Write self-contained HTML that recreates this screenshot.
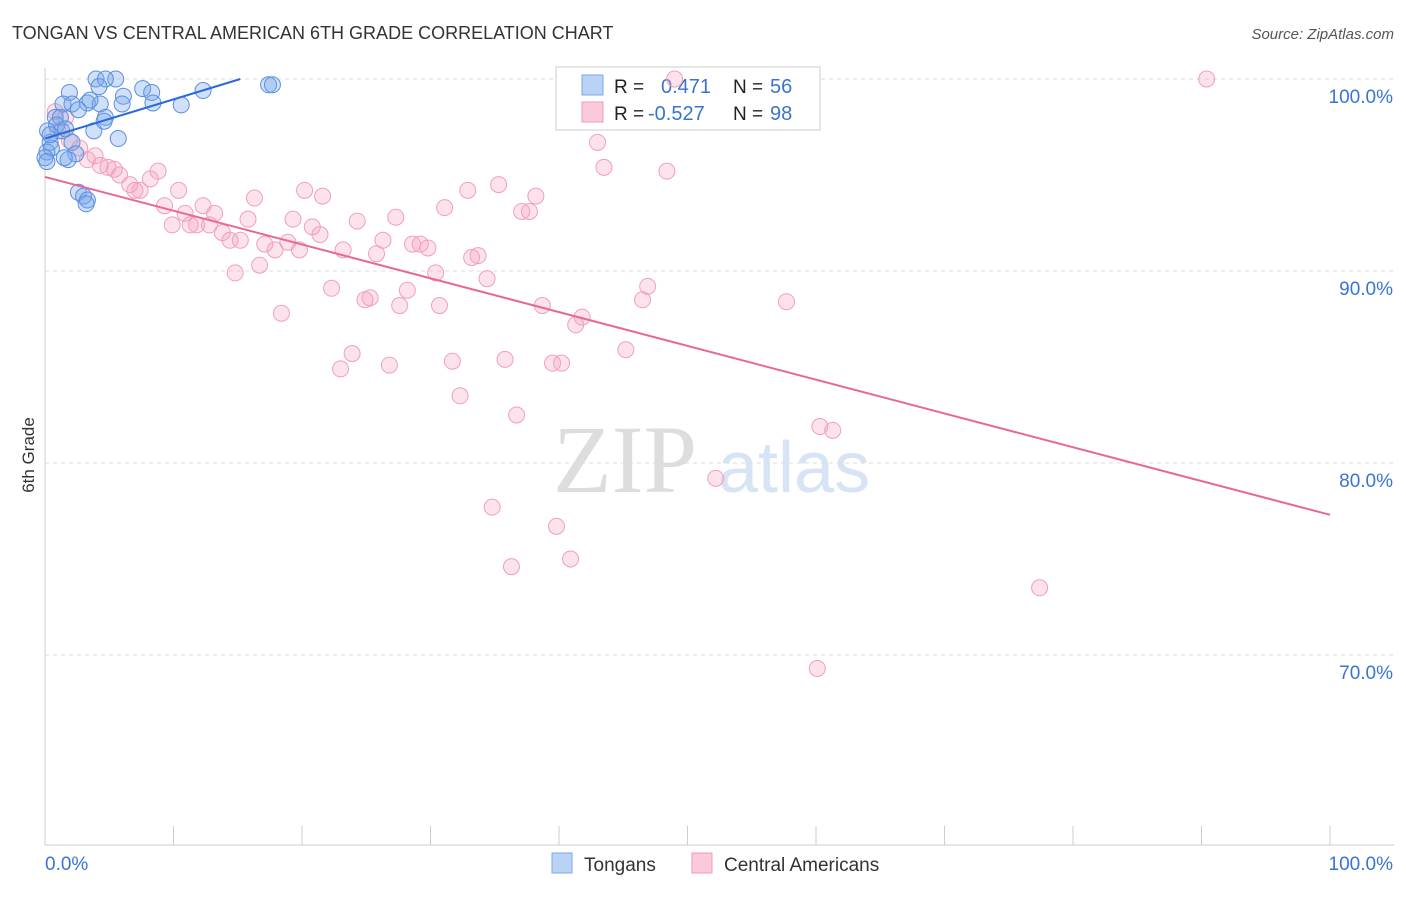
<!DOCTYPE html>
<html><head><meta charset="utf-8"><style>
body{margin:0;background:#fff;font-family:"Liberation Sans",sans-serif;}
svg text{font-family:"Liberation Sans",sans-serif;}
svg text.serif{font-family:"Liberation Serif",serif;}
</style></head><body>
<svg id="c" width="1406" height="892" xmlns="http://www.w3.org/2000/svg">
<text x="12" y="39" font-size="18" fill="#333">TONGAN VS CENTRAL AMERICAN 6TH GRADE CORRELATION CHART</text>
<text x="1394" y="39" font-size="15" fill="#555" font-style="italic" text-anchor="end">Source: ZipAtlas.com</text>
<text x="34" y="455" font-size="17" fill="#333" transform="rotate(-90 34 455)" text-anchor="middle">6th Grade</text>
<text class="serif" x="553" y="492" font-size="96" fill="#ddd">ZIP</text>
<text x="718" y="492" font-size="72" fill="#d6e4f5">atlas</text>
<g id="grid"></g>
<g>
<rect x="556" y="67" width="264" height="63" fill="#fff" stroke="#ccc"/>
<rect x="582" y="75" width="21" height="20" fill="#b9d3f5" stroke="#7aa8e8"/>
<rect x="582" y="102" width="21" height="20" fill="#fbcad8" stroke="#f09ab5"/>
<text x="614" y="93" font-size="19" fill="#222">R =</text><text x="661" y="93" font-size="20" fill="#3a74d0">0.471</text>
<text x="733" y="93" font-size="19" fill="#222">N =</text><text x="770" y="93" font-size="20" fill="#3a74d0">56</text>
<text x="614" y="120" font-size="19" fill="#222">R =</text><text x="648" y="120" font-size="20" fill="#3a74d0">-0.527</text>
<text x="733" y="120" font-size="19" fill="#222">N =</text><text x="770" y="120" font-size="20" fill="#3a74d0">98</text>
</g>
<g id="marks"></g>
<g>
<rect x="552" y="853" width="20" height="20" fill="#b9d3f5" stroke="#7aa8e8"/>
<text x="584" y="871" font-size="19" fill="#333">Tongans</text>
<rect x="692" y="853" width="20" height="20" fill="#fbcad8" stroke="#f09ab5"/>
<text x="724" y="871" font-size="19" fill="#333">Central Americans</text>
</g>
</svg>
<script>
const yTicks=[100,90,80,70];
const yTickLabels=["100.0%","90.0%","80.0%","70.0%"];
const xEndLabels=["0.0%","100.0%"];
const blueX=[3.97,5.5,4.7,7.6,1.9,8.3,4.2,6.1,12.3,17.4,17.7,1.4,2.1,3.3,4.3,6.0,8.4,10.6,2.6,4.7,4.6,0.8,1.2,0.2,1.3,3.8,5.7,0.4,0.5,2.1,0.15,2.4,1.8,1.5,0,2.6,3.0,3.3,3.2,0.15,0.9,1.6,3.5,0.4];
const blueY=[100,100,100,99.5,99.3,99.3,99.6,99.1,99.4,99.7,99.7,98.7,98.7,98.75,98.7,98.7,98.75,98.65,98.4,98.0,97.8,98.0,98.0,97.3,97.3,97.3,96.9,96.7,96.4,96.7,96.2,96.1,95.8,95.9,95.9,94.1,93.9,93.7,93.5,95.7,97.6,97.4,98.9,97.1];
const pinkX=[90.4,49.0,43.0,43.5,48.4,0.8,1.6,1.0,1.9,2.7,3.3,4.3,4.9,5.8,6.6,7.4,8.2,8.8,9.3,9.9,10.4,10.9,11.3,11.8,12.3,12.8,13.2,13.8,14.4,14.8,15.2,15.8,16.3,16.7,17.1,17.9,18.4,18.9,19.3,19.8,20.2,20.8,21.4,21.6,22.3,23.0,23.2,23.9,24.3,24.9,25.3,25.8,26.3,26.8,27.3,27.6,28.2,28.6,29.2,29.8,30.4,30.7,31.1,31.7,32.3,32.9,33.2,33.7,34.4,34.8,35.3,35.8,36.3,36.7,37.1,37.7,38.2,38.7,39.5,39.8,40.2,40.9,41.3,41.8,45.2,46.5,46.9,52.2,57.7,60.1,60.3,61.3,77.4,5.4,7.0,3.9];
const pinkY=[100,100,96.7,95.4,95.2,98.3,98.0,97.3,96.8,96.4,95.8,95.5,95.4,95.0,94.5,94.2,94.8,95.2,93.4,92.4,94.2,93.0,92.4,92.4,93.4,92.4,93.0,92.0,91.6,89.9,91.6,92.7,93.8,90.3,91.4,91.1,87.8,91.5,92.7,91.1,94.2,92.3,91.9,93.9,89.1,84.9,91.1,85.7,92.6,88.5,88.6,90.9,91.6,85.1,92.8,88.2,89.0,91.4,91.4,91.2,89.9,88.2,93.3,85.3,83.5,94.2,90.7,90.8,89.6,77.7,94.5,85.4,74.6,82.5,93.1,93.1,93.9,88.2,85.2,76.7,85.2,75.0,87.2,87.6,85.9,88.5,89.2,79.2,88.4,69.3,81.9,81.7,73.5,95.3,94.2,96.0];
const blueTrend=[[0,96.9],[15.2,100]];
const pinkTrend=[[0,94.9],[100,77.3]];
const NS="http://www.w3.org/2000/svg";
const X=v=>45+v*12.85, Y=v=>79+(100-v)*19.2;
function mk(p,tag,a){const e=document.createElementNS(NS,tag);for(const k in a)e.setAttribute(k,a[k]);p.appendChild(e);return e;}
const g=document.getElementById('grid'), m=document.getElementById('marks');
yTicks.forEach((t,i)=>{
 const l=mk(g,'line',{x1:45,x2:1394,y1:Y(t),y2:Y(t),stroke:'#ddd','stroke-dasharray':'4 4'});
 
 
 const tx=mk(g,'text',{x:1393,y:Y(t)+24,'font-size':19,fill:'#3a74d0','text-anchor':'end'});tx.textContent=yTickLabels[i];
 
 
});
const ax=mk(g,'line',{x1:45,x2:1394,y1:845,y2:845,stroke:'#ccc'});


const ay=mk(g,'line',{x1:45,x2:45,y1:68,y2:845,stroke:'#ccc'});


for(let i=0;i<=10;i++){const t=mk(g,'line',{x1:X(i*10),x2:X(i*10),y1:826,y2:845,stroke:'#ccc'});
 
 }
[[0,'start',45],[100,'end',1393]].forEach((d,i)=>{const t=mk(g,'text',{x:d[2],y:870,'font-size':19,fill:'#3a74d0','text-anchor':d[1]});t.textContent=xEndLabels[i];
 
 });
pinkX.forEach((x,i)=>{const c=mk(m,'circle',{cx:X(x),cy:Y(pinkY[i]),r:8,fill:'rgba(246,160,188,0.3)',stroke:'#f0a0ba','stroke-width':1});
 
 });
blueX.forEach((x,i)=>{const c=mk(m,'circle',{cx:X(x),cy:Y(blueY[i]),r:8,fill:'rgba(120,165,235,0.35)',stroke:'#5a8fe0','stroke-width':1});
 
 });
const pl=mk(m,'line',{x1:X(pinkTrend[0][0]),y1:Y(pinkTrend[0][1]),x2:X(pinkTrend[1][0]),y2:Y(pinkTrend[1][1]),stroke:'#e8679a','stroke-width':2});


const bl=mk(m,'line',{x1:X(blueTrend[0][0]),y1:Y(blueTrend[0][1]),x2:X(blueTrend[1][0]),y2:Y(blueTrend[1][1]),stroke:'#2a6ad6','stroke-width':2});


</script>
</body></html>
